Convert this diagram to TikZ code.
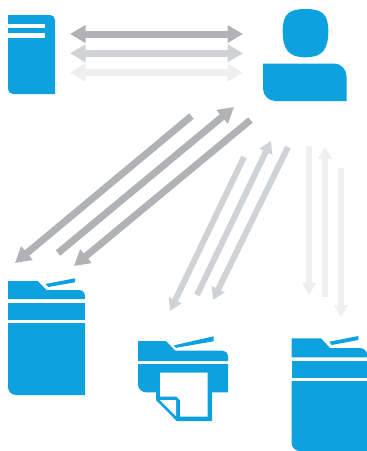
\documentclass[tikz,border=0pt]{standalone}
\usetikzlibrary{arrows.meta}
\definecolor{iconblue}{HTML}{0DA2DE}
\definecolor{darkgrey}{HTML}{B0B3B6}
\definecolor{midgrey}{HTML}{D0D3D5}
\definecolor{lightgrey}{HTML}{EFEFEF}
\tikzset{
  icon/.style={fill=iconblue,draw=none},
  hole/.style={fill=white,draw=none},
  bigtip/.style={-{Triangle[length=15.5pt,width=17pt]},line width=7pt},
  smalltip/.style={-{Triangle[length=12pt,width=13.5pt]},line width=6pt},
  bothbig/.style={{Triangle[length=15.5pt,width=17pt]}-{Triangle[length=15.5pt,width=17pt]},line width=7pt},
  linkA/.style={darkgrey,bigtip},
  linkB/.style={midgrey,smalltip},
  linkC/.style={lightgrey,smalltip},
}
\begin{document}
\begin{tikzpicture}[x=1pt,y=-1pt]
\useasboundingbox (0,0) rectangle (367,451);
\clip (0,0) rectangle (367,451);

% server
\fill[icon] (8,15) -- (50,15) .. controls (52.75,15) and (55,17.25) .. (55,20) -- (55,94) -- (13,94)
  .. controls (10.25,94) and (8,91.75) .. (8,89) -- cycle;
\fill[hole] (8,24) rectangle (45,28.3);
\fill[hole] (8,33.3) rectangle (45,37.6);

% user
\fill[icon] (305.5,9) .. controls (322,9) and (328.3,14) .. (328.3,31)
  .. controls (328.3,50) and (322,57.3) .. (305.5,57.3)
  .. controls (289,57.3) and (282.7,50) .. (282.7,31)
  .. controls (282.7,14) and (289,9) .. (305.5,9) -- cycle;
\fill[icon] (263,63.5) -- (334,63.5) .. controls (340.9,63.5) and (346.5,69.1) .. (346.5,76) -- (346.5,101) -- (275.5,101)
  .. controls (268.6,101) and (263,95.4) .. (263,88.5) -- cycle;

% printer left
\fill[icon] (8,281) -- (37.7,281) -- (46.7,290) -- (79,290) .. controls (82.3,290) and (85,292.7) .. (85,296) -- (85,299) -- (8,299) -- cycle;
\fill[icon] (45.3,284) -- (75,278.3) -- (75,282.3) -- (48.3,287) -- cycle;
\fill[icon] (8,303) rectangle (85,319.7);
\fill[icon] (8,323) -- (85,323) -- (85,395) -- (16,395) .. controls (11.6,395) and (8,391.4) .. (8,387) -- cycle;

% printer centre
\fill[icon] (138,341) -- (166,341) -- (175.3,350.7) -- (222.7,350.7) .. controls (225.6,350.7) and (228,353.1) .. (228,356) -- (228,361) -- (138,361) -- cycle;
\fill[icon] (173.5,345.5) -- (213.5,336.3) -- (213.5,341.3) -- (176,347.8) -- cycle;
\fill[icon] (138,364) -- (228,364) -- (228,392.3) -- (212,392.3) -- (212,421) -- (176.7,421) -- (156,400) -- (156,392.3) -- (146,392.3)
  .. controls (141.6,392.3) and (138,388.7) .. (138,384.3) -- cycle;
\fill[hole] (160,372.7) -- (207.7,372.7) -- (207.7,416.7) -- (180,416.7) -- (180,400) -- (176.7,396.7) -- (160,396.7) -- cycle;
\fill[hole] (160,400) -- (176,400) -- (176,416) -- cycle;

% printer right
\fill[icon] (291.7,338.3) -- (321,338.3) -- (330,348) -- (360,348) .. controls (363.9,348) and (367,351.1) .. (367,355) -- (367,357.3) -- (291.7,357.3) -- cycle;
\fill[icon] (329.3,341.7) -- (358.3,336) -- (358.3,340) -- (331.7,345) -- cycle;
\fill[icon] (291.7,361) rectangle (367,378);
\fill[icon] (291.7,381) -- (367,381) -- (367,451) -- (299.7,451) .. controls (295.3,451) and (291.7,447.4) .. (291.7,443) -- cycle;

% connector end points
\coordinate (t1l) at (70,34);   \coordinate (t1r) at (243,34);
\coordinate (t2l) at (70,53.3); \coordinate (t2r) at (243,53.3);
\coordinate (t3l) at (70,72.7); \coordinate (t3r) at (243,72.7);
\coordinate (a1s) at (191.5,116); \coordinate (a1e) at (15,263);
\coordinate (a2s) at (58,253);    \coordinate (a2e) at (234,107);
\coordinate (a3s) at (250.5,120); \coordinate (a3e) at (74,266);
\coordinate (b1s) at (244,157); \coordinate (b1e) at (170,311);
\coordinate (b2s) at (197,295); \coordinate (b2e) at (271,141);
\coordinate (b3s) at (288,147); \coordinate (b3e) at (213,300);
\coordinate (c1s) at (309,146); \coordinate (c1e) at (309,295);
\coordinate (c2s) at (325,297); \coordinate (c2e) at (325,147);
\coordinate (c3s) at (341,168); \coordinate (c3e) at (341,317);

% connectors
\draw[darkgrey,bothbig] (t1l) -- (t1r);
\draw[midgrey,bothbig] (t2l) -- (t2r);
\draw[lightgrey,bothbig] (t3l) -- (t3r);
\draw[linkA] (a1s) -- (a1e);
\draw[linkA] (a2s) -- (a2e);
\draw[linkA] (a3s) -- (a3e);
\draw[linkB] (b1s) -- (b1e);
\draw[linkB] (b2s) -- (b2e);
\draw[linkB] (b3s) -- (b3e);
\draw[linkC] (c1s) -- (c1e);
\draw[linkC] (c2s) -- (c2e);
\draw[linkC] (c3s) -- (c3e);
\end{tikzpicture}
\end{document}
